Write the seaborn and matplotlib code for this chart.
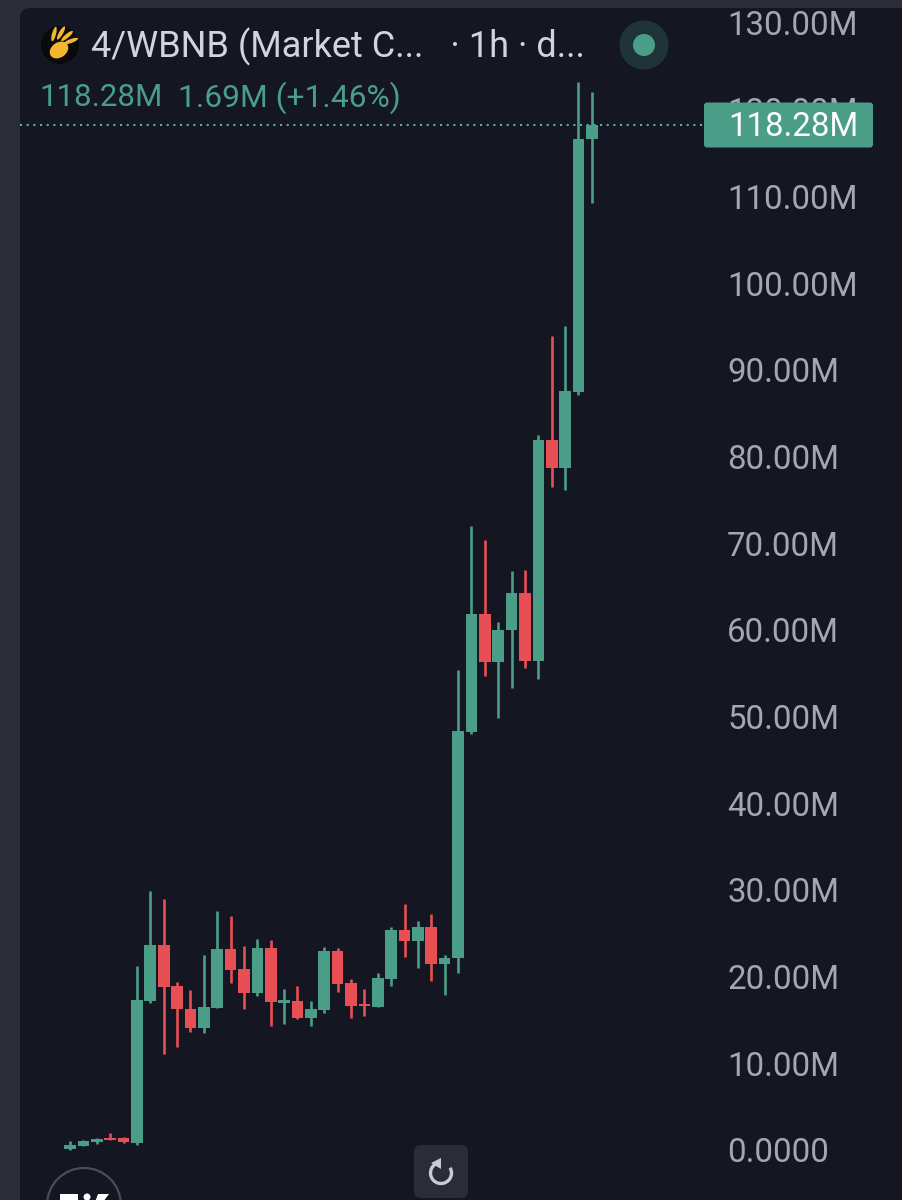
#!/usr/bin/env python3
# -*- coding: utf-8 -*-
"""
Hourly candlestick chart of 4/WBNB market cap, dark trading app style
"""

#%% Imports

import numpy as np
import pandas as pd
import seaborn as sns
from matplotlib import pyplot as plt
from matplotlib.patches import Circle, Ellipse, FancyBboxPatch, Rectangle, Arc, Polygon
from matplotlib.transforms import Affine2D

#%% Data (market cap in millions)

OPENS = [0.08, 0.46, 0.89, 1.42, 1.35, 0.84, 17.15, 23.64, 18.9, 16.3,
         14.1, 16.4, 23.22, 20.88, 18.1, 23.3, 17.0, 17.19, 15.26, 16.15,
         22.99, 19.3, 16.84, 16.53, 19.76, 25.37, 24.14, 25.72, 21.42, 22.1,
         48.2, 61.86, 56.32, 59.98, 64.28, 56.44, 81.93, 78.7, 87.47, 116.6]
CLOSES = [0.54, 1.0, 1.3, 1.15, 0.92, 17.27, 23.64, 18.8, 16.26, 14.1,
          16.46, 23.22, 20.8, 18.14, 23.3, 17.03, 17.3, 15.26, 16.23, 22.99,
          19.15, 16.64, 16.57, 19.88, 25.37, 24.14, 25.72, 21.42, 22.15, 48.33,
          61.86, 56.32, 60.0, 64.28, 56.44, 81.93, 78.7, 87.5, 116.6, 118.28]
HIGHS = [1.04, 1.12, 1.42, 1.96, 1.5, 21.2, 29.87, 29.0, 19.34, 18.42,
         22.46, 27.6, 26.95, 23.53, 24.34, 24.26, 18.57, 18.88, 17.19, 23.38,
         23.26, 19.69, 18.57, 20.38, 25.72, 28.34, 26.38, 27.19, 22.49, 55.36,
         72.0, 70.36, 60.93, 66.75, 66.94, 82.47, 93.9, 95.07, 123.2, 122.0]
LOWS = [0.05, 0.46, 0.69, 1.15, 0.77, 0.6, 16.9, 11.07, 11.85, 13.64,
        13.46, 16.4, 19.3, 16.23, 17.8, 14.34, 14.57, 15.14, 14.34, 15.8,
        18.26, 15.19, 15.46, 16.53, 18.92, 22.26, 21.03, 19.49, 17.91, 20.38,
        47.95, 54.7, 49.86, 53.32, 55.63, 54.33, 76.5, 76.1, 87.1, 109.2]

TICK_VALUES = [0, 10, 20, 30, 40, 50, 60, 70, 80, 90, 100, 110, 120, 130]
TICK_LABELS = ['0.0000', '10.00M', '20.00M', '30.00M', '40.00M', '50.00M', '60.00M',
               '70.00M', '80.00M', '90.00M', '100.00M', '110.00M', '120.00M', '130.00M']

TITLE = '4/WBNB (Market C...   · 1h · d...'
LAST_PRICE = '118.28M'
CHANGE = '1.69M (+1.46%)'

#%% Style

BG_OUTER = '#2a2d38'
BG_PANEL = '#141722'
GREEN = '#4a9e88'
RED = '#e84f55'
TITLE_COL = '#d1d4dc'
AXIS_COL = '#a4a7b0'
FONT = 'Roboto'

#%% Main

if __name__ == '__main__':

    sns.set_style('dark')
    plt.rcParams['font.family'] = [FONT, 'DejaVu Sans']

    df = pd.DataFrame({'candle': np.arange(len(OPENS)), 'open': OPENS, 'close': CLOSES,
                       'high': HIGHS, 'low': LOWS})
    df['base'] = df[['open', 'close']].min(axis=1)
    df['body'] = (df['close'] - df['open']).abs()
    df['colour'] = np.where(df['close'] >= df['open'], GREEN, RED)

    fig = plt.figure(figsize=(9.02, 12), dpi=100, facecolor=BG_OUTER)

    # pixel coordinates of the picture, y going down
    px = Affine2D().scale(1, -1).translate(0, 1200)

    fig.add_artist(FancyBboxPatch((20, 8), 1000, 1300, boxstyle='round,pad=0,rounding_size=10',
                                  transform=px, fc=BG_PANEL, ec='none', zorder=-1))

    ax = fig.add_axes([20/902, 0, 696/902, 1192/1200])
    ax.patch.set_alpha(0)

    # wicks then bodies
    ax.vlines(df['candle'], df['low'], df['high'], colors=df['colour'], lw=1.9, zorder=2)
    for colour, sub in df.groupby('colour'):
        sns.barplot(data=sub, x='candle', y='body', bottom=sub['base'].values, native_scale=True,
                    color=colour, saturation=1, width=0.87, linewidth=0, ax=ax, zorder=3)

    ax.set_xlim(-3.74, 48.28)
    ax.set_ylim(-5.77, 131.72)
    ax.set_xticks([])
    ax.set_xlabel('')
    ax.set_ylabel('')
    ax.yaxis.tick_right()
    ax.set_yticks(TICK_VALUES)
    ax.set_yticklabels(TICK_LABELS, fontsize=23.8, color=AXIS_COL)
    ax.tick_params(axis='y', length=0, pad=8)
    ax.grid(False)
    sns.despine(ax=ax, left=True, bottom=True, right=True, top=True)

    # last price line and tag
    ax.axhline(CLOSES[-1], color='#5fae99', lw=1.5, ls=(0, (1, 2.2)), zorder=1)
    tag_y = 1200 - ax.transData.transform((0, CLOSES[-1]))[1]
    tag = FancyBboxPatch((704, tag_y - 22), 169, 45, boxstyle='round,pad=0,rounding_size=3',
                         transform=px, fc=GREEN, ec='none', zorder=6, clip_on=False)
    ax.add_patch(tag)
    ax.text(728, tag_y + 2, LAST_PRICE, transform=px, fontsize=23.8, color='white', va='center',
            ha='left', zorder=7)

    # header
    ax.text(91, 47, TITLE, transform=px, fontsize=26, color=TITLE_COL, va='center', ha='left')
    ax.text(39, 98, LAST_PRICE, transform=px, fontsize=22.5, color=GREEN, va='center', ha='left')
    ax.text(178, 98, CHANGE, transform=px, fontsize=22.9, color=GREEN, va='center', ha='left')

    # token icon
    ax.add_patch(Circle((60, 45), 19, transform=px, fc='#0a0a0c', ec='none', clip_on=False))
    ax.add_patch(Ellipse((59, 50), 20, 15, angle=-35, transform=px, fc='#f2b632', ec='none'))
    for dx, dy, angle in [(-6, -10, 15), (1, -11, 30), (7, -8, 50), (11, -3, 70)]:
        ax.add_patch(Ellipse((60 + dx, 44 + dy), 4, 15, angle=angle, transform=px,
                             fc='#f2b632', ec='none'))

    # status dot
    ax.add_patch(Circle((644, 45), 24.5, transform=px, fc='#1f3338', ec='none'))
    ax.add_patch(Circle((644, 45), 11, transform=px, fc=GREEN, ec='none'))

    # reset button
    ax.add_patch(FancyBboxPatch((414, 1145), 54, 53, boxstyle='round,pad=0,rounding_size=7',
                                transform=px, fc=BG_OUTER, ec='none', zorder=5))
    ax.add_patch(Arc((441, 1173), 21, 21, theta1=-30, theta2=270 - 30, transform=px,
                     ec='#c9ccd4', lw=2.4, zorder=6))
    ax.add_patch(Polygon([(431, 1163), (441, 1158), (441, 1169)], transform=px,
                         fc='#c9ccd4', ec='none', zorder=6))

    # chart library logo, cut off by the bottom edge
    ax.add_patch(Circle((84, 1205), 37, transform=px, fc='none', ec='#4a4c55', lw=1.6, clip_on=True))
    ax.add_patch(Rectangle((60, 1194), 18, 8, transform=px, fc='white', ec='none'))
    ax.add_patch(Circle((87, 1197), 3.5, transform=px, fc='white', ec='none'))
    ax.add_patch(Polygon([(98, 1194), (109, 1194), (103, 1202), (95, 1202)], transform=px,
                         fc='white', ec='none'))

    plt.savefig('out.png', dpi=100, facecolor=fig.get_facecolor())
    plt.close()
